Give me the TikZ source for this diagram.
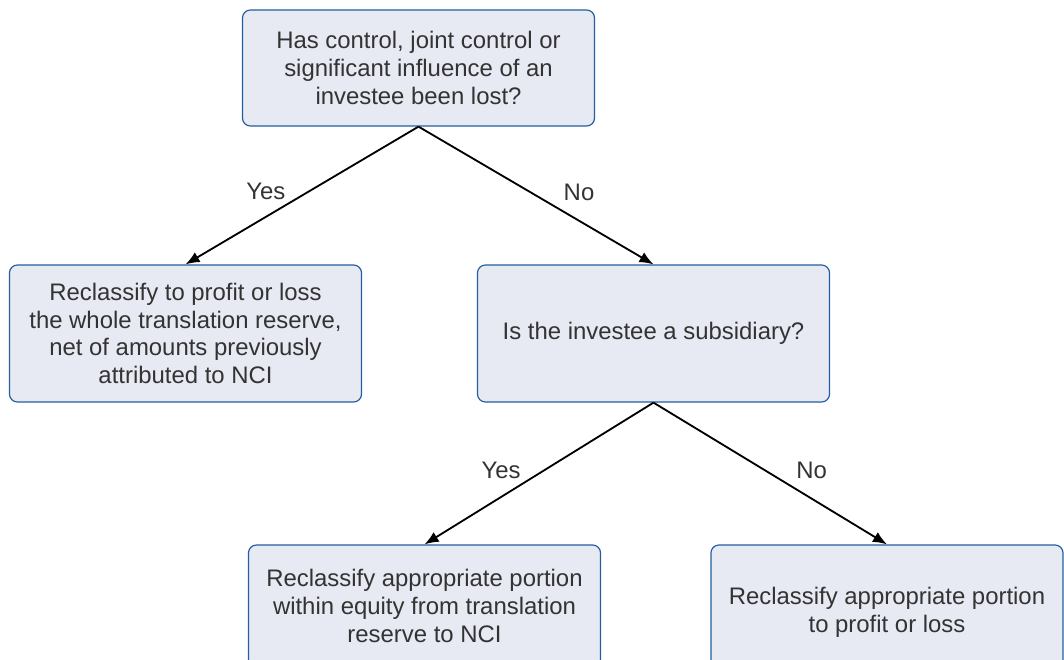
\documentclass[tikz,border=0pt]{standalone}
\usepackage{fontspec}
\setmainfont{Liberation Sans}
\usetikzlibrary{arrows.meta}
\definecolor{boxfill}{RGB}{231,233,243}
\definecolor{boxline}{RGB}{36,94,160}
\tikzset{
	box/.style={draw=boxline, fill=boxfill, line width=0.85pt, rounded corners=0.2cm,
		minimum width=8.8cm, align=center, text=black!80},
	arr/.style={-{Latex[length=10pt,width=8pt]}, line width=1.3pt},
	lbl/.style={text=black!80}
}

\begin{document}
\begin{tikzpicture}[x=0.025cm,y=-0.025cm,font=\fontsize{17}{19.8}\selectfont]
				\useasboundingbox (0,0) rectangle (1064,659);
				\clip (0,0) rectangle (1064,659);
				\node[box, minimum height=2.9cm] (lost) at (418.5,68) {Has control, joint control or\\significant influence of an\\investee been lost?};
				\node[box, minimum height=3.425cm] (all) at (185.5,333.5) {Reclassify to profit or loss\\the whole translation reserve,\\net of amounts previously\\attributed to NCI};
				\node[box, minimum height=3.425cm] (sub) at (653.5,333.5) {Is the investee a subsidiary?};
				\node[box, minimum height=3.05cm] (nci) at (424.5,606) {Reclassify appropriate portion\\within equity from translation\\reserve to NCI};
				\node[box, minimum height=3.35cm] (part) at (887,612) {Reclassify appropriate portion\\to profit or loss};
				\draw[arr] (lost.south) to node[lbl, pos=0.47, left=0.45cm]{Yes} (all.north);
				\draw[arr] (lost.south) to node[lbl, pos=0.475, right=0.7cm]{No} (sub.north);
				\draw[arr] (sub.south) to node[lbl, pos=0.476, left=0.46cm]{Yes} (nci.north);
				\draw[arr] (sub.south) to node[lbl, pos=0.48, right=0.63cm]{No} (part.north);
			\end{tikzpicture}
\end{document}
